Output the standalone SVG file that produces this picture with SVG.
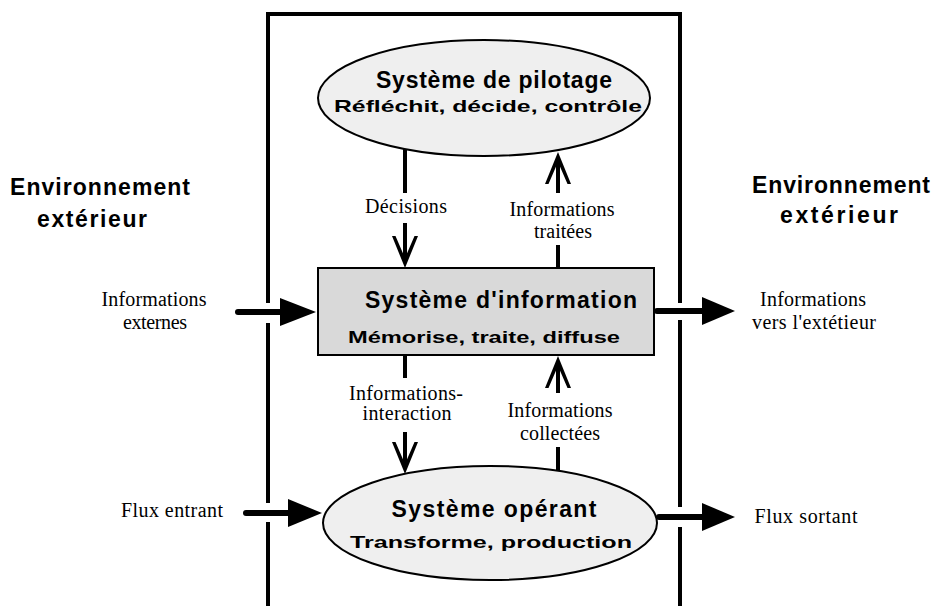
<svg xmlns="http://www.w3.org/2000/svg" width="936" height="606" viewBox="0 0 936 606">
  <defs>
    <style>
      .frame { stroke: #000; stroke-width: 4; fill: none; }
      .flow { stroke: #000; stroke-width: 6; stroke-linecap: round; fill: none; }
      .link { stroke: #000; stroke-width: 4; fill: none; }
      .head { fill: #000; }
      .ell { fill: #efefef; stroke: #000; stroke-width: 2; }
      .box { fill: #d9d9d9; stroke: #000; stroke-width: 2; }
      .title { font-family: "Liberation Sans", Arial, sans-serif; font-weight: bold; font-size: 23px; fill: #000; text-anchor: middle; }
      .sub { font-family: "Liberation Sans", Arial, sans-serif; font-weight: bold; font-size: 17px; fill: #000; text-anchor: middle; }
      .env { font-family: "Liberation Sans", Arial, sans-serif; font-weight: bold; font-size: 23px; fill: #000; text-anchor: middle; }
      .lbl { font-family: "Liberation Serif", "Times New Roman", serif; font-size: 20px; fill: #000; text-anchor: middle; }
    </style>
  </defs>

  <!-- system boundary: open-bottom frame with gaps where flows cross -->
  <g id="frame">
    <path class="frame" d="M268 606 V522 M268 503 V323 M268 303 V14 H680 V303 M680 320 V507 M680 527 V606"/>
  </g>

  <!-- environment labels -->
  <g id="env-left">
    <text class="env" x="100" y="195" textLength="180">Environnement</text>
    <text class="env" x="92" y="227" textLength="110">extérieur</text>
  </g>
  <g id="env-right">
    <text class="env" x="841" y="193" textLength="178">Environnement</text>
    <text class="env" x="839" y="223" textLength="118">extérieur</text>
  </g>

  <!-- nodes -->
  <g id="pilotage">
    <ellipse class="ell" cx="484" cy="98" rx="166" ry="58"/>
    <text class="title" x="494" y="88" textLength="236">Système de pilotage</text>
    <text class="sub" x="488" y="112" textLength="308" lengthAdjust="spacingAndGlyphs">Réfléchit, décide, contrôle</text>
  </g>

  <g id="information">
    <rect class="box" x="318" y="268" width="336" height="87"/>
    <text class="title" x="501" y="308" textLength="272">Système d'information</text>
    <text class="sub" x="484" y="343" textLength="272" lengthAdjust="spacingAndGlyphs">Mémorise, traite, diffuse</text>
  </g>

  <g id="operant">
    <ellipse class="ell" cx="490" cy="523" rx="167" ry="57"/>
    <text class="title" x="494" y="517" textLength="205">Système opérant</text>
    <text class="sub" x="491" y="548" textLength="282" lengthAdjust="spacingAndGlyphs">Transforme, production</text>
  </g>

  <!-- connectors -->
  <g id="connectors">
    <!-- Décisions: pilotage -> information -->
    <path class="link" d="M405 149 V193 M405 223 V262"/>
    <polygon class="head" points="405,268 392,236 395.5,236 405,258 414.5,236 418,236"/>
    <!-- Informations traitées: information -> pilotage -->
    <path class="link" d="M558 268 V245 M558 193 V160"/>
    <polygon class="head" points="558,152 545,184 548.5,184 558,162 567.5,184 571,184"/>
    <!-- Informations-interaction: information -> operant -->
    <path class="link" d="M405 355 V378 M405 432 V468"/>
    <polygon class="head" points="405,474 392,442 395.5,442 405,464 414.5,442 418,442"/>
    <!-- Informations collectées: operant -> information -->
    <path class="link" d="M558 471 V447 M558 393 V364"/>
    <polygon class="head" points="558,356 545,388 548.5,388 558,366 567.5,388 571,388"/>

    <!-- external information in / out -->
    <path class="flow" d="M238 312 H284"/>
    <polygon class="head" points="280,298 316,312 280,326"/>
    <path class="flow" d="M657 311 H706"/>
    <polygon class="head" points="702,297 735,311 702,325"/>

    <!-- physical flows in / out -->
    <path class="flow" d="M246 513 H292"/>
    <polygon class="head" points="288,499 322,513 288,527"/>
    <path class="flow" d="M659 517 H706"/>
    <polygon class="head" points="702,503 735,517 702,531"/>
  </g>

  <!-- connector labels -->
  <g id="labels">
    <text class="lbl" x="406" y="213" textLength="82">Décisions</text>
    <text class="lbl" x="562" y="216" textLength="105">Informations</text>
    <text class="lbl" x="563" y="238" textLength="58">traitées</text>
    <text class="lbl" x="406" y="400" textLength="114">Informations-</text>
    <text class="lbl" x="407" y="420" textLength="89">interaction</text>
    <text class="lbl" x="560" y="417" textLength="105">Informations</text>
    <text class="lbl" x="560" y="440" textLength="80">collectées</text>
    <text class="lbl" x="154" y="306" textLength="105">Informations</text>
    <text class="lbl" x="155" y="329" textLength="64">externes</text>
    <text class="lbl" x="813" y="306" textLength="106">Informations</text>
    <text class="lbl" x="814" y="329" textLength="124">vers l'extétieur</text>
    <text class="lbl" x="172" y="517" textLength="102">Flux entrant</text>
    <text class="lbl" x="806" y="523" textLength="103">Flux sortant</text>
  </g>
</svg>
